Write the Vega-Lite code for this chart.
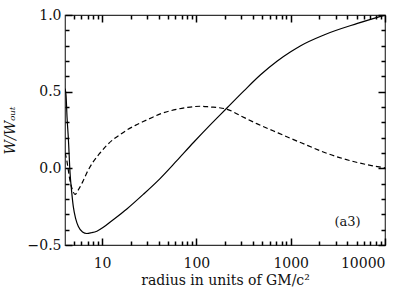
{
  "$schema": "https://vega.github.io/schema/vega-lite/v6.json",
  "width": 320,
  "height": 230,
  "autosize": "none",
  "padding": {"left": 65, "top": 15, "right": 23, "bottom": 46},
  "background": "white",
  "config": {
    "view": {"stroke": "#333", "strokeWidth": 1.2},
    "font": "DejaVu Serif",
    "axis": {"grid": false, "domain": false, "labelColor": "#111", "titleColor": "#111", "labelFont": "DejaVu Serif", "titleFont": "DejaVu Serif", "labelFontSize": 14, "titleFontSize": 14, "titleFontWeight": "normal"}
  },
  "datasets": {
    "solid": [
      {"r": 4.04, "w": 0.52}, {"r": 4.14, "w": 0.48}, {"r": 4.25, "w": 0.33}, {"r": 4.39, "w": 0.19},
      {"r": 4.57, "w": -0.03}, {"r": 4.75, "w": -0.15}, {"r": 4.95, "w": -0.25}, {"r": 5.25, "w": -0.33},
      {"r": 5.6, "w": -0.38}, {"r": 6.2, "w": -0.415}, {"r": 6.87, "w": -0.425}, {"r": 7.7, "w": -0.42},
      {"r": 8.8, "w": -0.41}, {"r": 10.3, "w": -0.385}, {"r": 12.2, "w": -0.35}, {"r": 18.3, "w": -0.265},
      {"r": 27.3, "w": -0.17}, {"r": 41.4, "w": -0.065}, {"r": 62, "w": 0.05}, {"r": 93.6, "w": 0.17},
      {"r": 141, "w": 0.285}, {"r": 212, "w": 0.395}, {"r": 319, "w": 0.505}, {"r": 479, "w": 0.61},
      {"r": 721, "w": 0.7}, {"r": 1000, "w": 0.76}, {"r": 1276, "w": 0.8}, {"r": 2250, "w": 0.87},
      {"r": 5100, "w": 0.945}, {"r": 10000, "w": 1.0}
    ],
    "dashed": [
      {"r": 4.04, "w": 0.1}, {"r": 4.2, "w": 0.06}, {"r": 4.4, "w": -0.02}, {"r": 4.6, "w": -0.09},
      {"r": 4.85, "w": -0.14}, {"r": 5.16, "w": -0.17}, {"r": 5.6, "w": -0.14}, {"r": 6.2, "w": -0.09},
      {"r": 6.87, "w": -0.03}, {"r": 8, "w": 0.04}, {"r": 9.5, "w": 0.1}, {"r": 11.2, "w": 0.15},
      {"r": 13.2, "w": 0.19}, {"r": 15.5, "w": 0.22}, {"r": 18.3, "w": 0.25}, {"r": 22.5, "w": 0.28},
      {"r": 27.3, "w": 0.305}, {"r": 34, "w": 0.332}, {"r": 41.4, "w": 0.355}, {"r": 62, "w": 0.385},
      {"r": 80, "w": 0.397}, {"r": 110, "w": 0.405}, {"r": 141, "w": 0.4}, {"r": 175, "w": 0.395},
      {"r": 212, "w": 0.385}, {"r": 300, "w": 0.34}, {"r": 442, "w": 0.29}, {"r": 650, "w": 0.245},
      {"r": 1000, "w": 0.195}, {"r": 1500, "w": 0.15}, {"r": 2250, "w": 0.105}, {"r": 3300, "w": 0.07},
      {"r": 5100, "w": 0.038}, {"r": 7200, "w": 0.018}, {"r": 10000, "w": 0.003}
    ],
    "label": [{"r": 4000, "w": -0.35, "text": "(a3)"}]
  },
  "resolve": {"axis": {"x": "independent", "y": "independent"}},
  "layer": [
    {
      "data": {"name": "solid"},
      "mark": {"type": "line", "color": "#000", "strokeWidth": 1.2, "interpolate": "monotone", "clip": true},
      "encoding": {
        "x": {"field": "r", "type": "quantitative",
          "scale": {"type": "log", "domain": [4.04, 10000], "nice": false},
          "axis": {"orient": "bottom", "values": [10, 100, 1000, 10000], "format": "d", "ticks": false, "labelPadding": 11, "title": "radius in units of GM/c²", "titlePadding": 3}},
        "y": {"field": "w", "type": "quantitative",
          "scale": {"domain": [-0.5, 1.0], "nice": false, "zero": false},
          "axis": {"orient": "left", "values": [-0.5, 0, 0.5, 1.0], "format": ".1f", "ticks": false, "labelPadding": 4, "title": "W/Wₒᵤₜ", "titleFontStyle": "italic", "titlePadding": 10}}
      }
    },
    {
      "data": {"name": "dashed"},
      "mark": {"type": "line", "color": "#000", "strokeWidth": 1.2, "strokeDash": [5, 3], "interpolate": "monotone", "clip": true},
      "encoding": {
        "x": {"field": "r", "type": "quantitative",
          "axis": {"orient": "top", "offset": -230, "values": [5, 6, 7, 8, 9, 10, 20, 30, 40, 50, 60, 70, 80, 90, 100, 200, 300, 400, 500, 600, 700, 800, 900, 1000, 2000, 3000, 4000, 5000, 6000, 7000, 8000, 9000, 10000], "labels": false, "ticks": true, "tickColor": "#000", "tickWidth": 1.5,
            "tickSize": {"condition": {"test": "datum.value == 10 || datum.value == 100 || datum.value == 1000 || datum.value == 10000", "value": 7}, "value": 4}, "title": null}},
        "y": {"field": "w", "type": "quantitative",
          "axis": {"orient": "right", "offset": -320, "values": [-0.5, -0.4, -0.3, -0.2, -0.1, 0, 0.1, 0.2, 0.3, 0.4, 0.5, 0.6, 0.7, 0.8, 0.9, 1.0], "labels": false, "ticks": true, "tickColor": "#000", "tickWidth": 1.5,
            "tickSize": {"condition": {"test": "abs(datum.value * 2 - round(datum.value * 2)) < 0.001", "value": 7}, "value": 4}, "title": null}}
      }
    },
    {
      "data": {"name": "label"},
      "mark": {"type": "text", "fontSize": 13, "font": "DejaVu Serif", "color": "#111", "align": "center", "baseline": "middle"},
      "encoding": {
        "x": {"field": "r", "type": "quantitative",
          "axis": {"orient": "bottom", "offset": -230, "values": [5, 6, 7, 8, 9, 10, 20, 30, 40, 50, 60, 70, 80, 90, 100, 200, 300, 400, 500, 600, 700, 800, 900, 1000, 2000, 3000, 4000, 5000, 6000, 7000, 8000, 9000, 10000], "labels": false, "ticks": true, "tickColor": "#000", "tickWidth": 1.5,
            "tickSize": {"condition": {"test": "datum.value == 10 || datum.value == 100 || datum.value == 1000 || datum.value == 10000", "value": 7}, "value": 4}, "title": null}},
        "y": {"field": "w", "type": "quantitative",
          "axis": {"orient": "left", "offset": -320, "values": [-0.5, -0.4, -0.3, -0.2, -0.1, 0, 0.1, 0.2, 0.3, 0.4, 0.5, 0.6, 0.7, 0.8, 0.9, 1.0], "labels": false, "ticks": true, "tickColor": "#000", "tickWidth": 1.5,
            "tickSize": {"condition": {"test": "abs(datum.value * 2 - round(datum.value * 2)) < 0.001", "value": 7}, "value": 4}, "title": null}},
        "text": {"field": "text"}
      }
    }
  ]
}
